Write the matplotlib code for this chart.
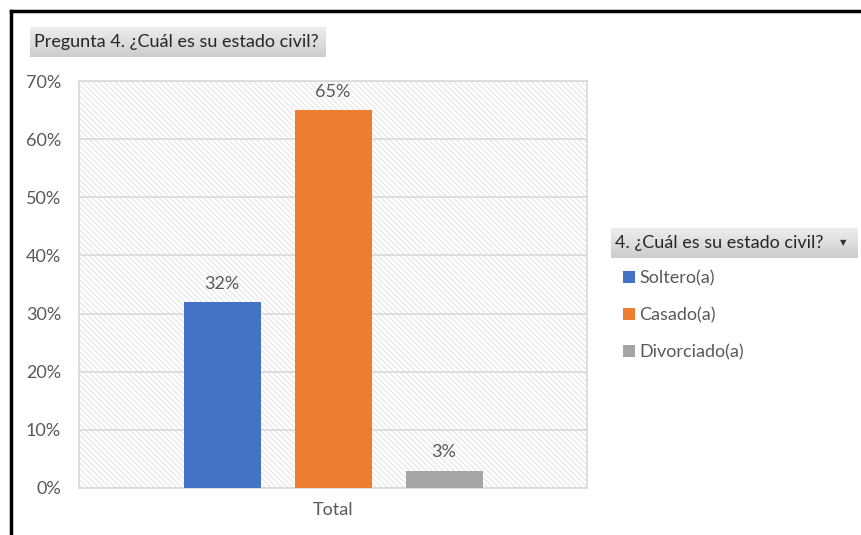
import matplotlib.pyplot as plt
import numpy as np
from matplotlib.patches import Patch, Rectangle
from matplotlib.lines import Line2D

plt.rcParams['font.family'] = ['Lato', 'DejaVu Sans']
plt.rcParams['hatch.linewidth'] = 0.7

# data
group = 'Total'
categories = ['Soltero(a)', 'Casado(a)', 'Divorciado(a)']
values = [32, 65, 3]
colors = ['#4472C4', '#ED7D31', '#A5A5A5']
yticks = [0, 10, 20, 30, 40, 50, 60, 70]
chart_title = 'Pregunta 4. ¿Cuál es su estado civil?'
legend_title = '4. ¿Cuál es su estado civil?'

txt = '#595959'
grid = '#d9d9d9'
fs = 13

W, H = 861, 535
fig = plt.figure(figsize=(W / 100, H / 100), dpi=100)

def px(x0, y0, x1, y1):
    # pixel box (top-left origin) -> figure fraction rect
    return [x0 / W, 1 - y1 / H, (x1 - x0) / W, (y1 - y0) / H]

ax = fig.add_axes(px(79, 81, 587, 488))

# hatched plot area
bg = Rectangle((0, 0), 1, 1, transform=ax.transAxes, facecolor='white',
               edgecolor='#e2e2e2', hatch='\\' * 6, linewidth=0, zorder=0)
ax.add_patch(bg)

step = 111 / 77
width = 1.0
xs = (np.arange(len(values)) - 1) * step
bars = ax.bar(xs, values, width=width, color=colors, zorder=3)
for x, v in zip(xs, values):
    ax.annotate(f'{v}%', (x, v), xytext=(0, 7.5), textcoords='offset points',
                ha='center', va='bottom', fontsize=fs, color=txt)

half = 254 / 77
ax.set_xlim(-half, half)
ax.set_ylim(0, 70)
ax.set_yticks(yticks)
ax.set_yticklabels([f'{t}%' for t in yticks])
ax.set_xticks([0])
ax.set_xticklabels([group])
ax.tick_params(axis='both', length=0, labelsize=fs, labelcolor=txt)
ax.tick_params(axis='y', pad=13)
ax.tick_params(axis='x', pad=10)
ax.yaxis.grid(True, color=grid, linewidth=1.2, zorder=1)
ax.set_axisbelow(True)
for s in ax.spines.values():
    s.set_color(grid)
    s.set_linewidth(1.2)

# gradient boxes for chart title and legend header
grad = np.linspace(0.93, 0.80, 50).reshape(-1, 1)

def header_box(rect, text, arrow=False):
    hx = fig.add_axes(rect)
    hx.imshow(grad, cmap='gray', vmin=0, vmax=1, aspect='auto',
              extent=[0, 1, 0, 1])
    hx.set_axis_off()
    hx.text(0.015, 0.5, text, transform=hx.transAxes, ha='left',
            va='center', fontsize=fs, color='#262626')
    if arrow:
        hx.text(0.94, 0.5, '▼', transform=hx.transAxes, ha='center',
                va='center', fontsize=6, color='#333333')

header_box(px(30, 27, 326, 57), chart_title)
header_box(px(611, 228, 858, 258), legend_title, arrow=True)

handles = [Patch(facecolor=c, edgecolor='none') for c in colors]
fig.legend(handles, categories, loc='upper left',
           bbox_to_anchor=(616 / W, 1 - 263 / H), frameon=False,
           fontsize=fs, labelcolor=txt, handlelength=0.65, handleheight=0.65,
           handletextpad=0.25, labelspacing=1.15, borderaxespad=0)

# black frame lines (top and left)
fig.add_artist(Line2D([11 / W, 1], [1 - 11 / H, 1 - 11 / H], color='black',
                      linewidth=2.5, transform=fig.transFigure))
fig.add_artist(Line2D([11 / W, 11 / W], [0, 1 - 11 / H], color='black',
                      linewidth=2.5, transform=fig.transFigure))

fig.savefig('out.png', dpi=100)
